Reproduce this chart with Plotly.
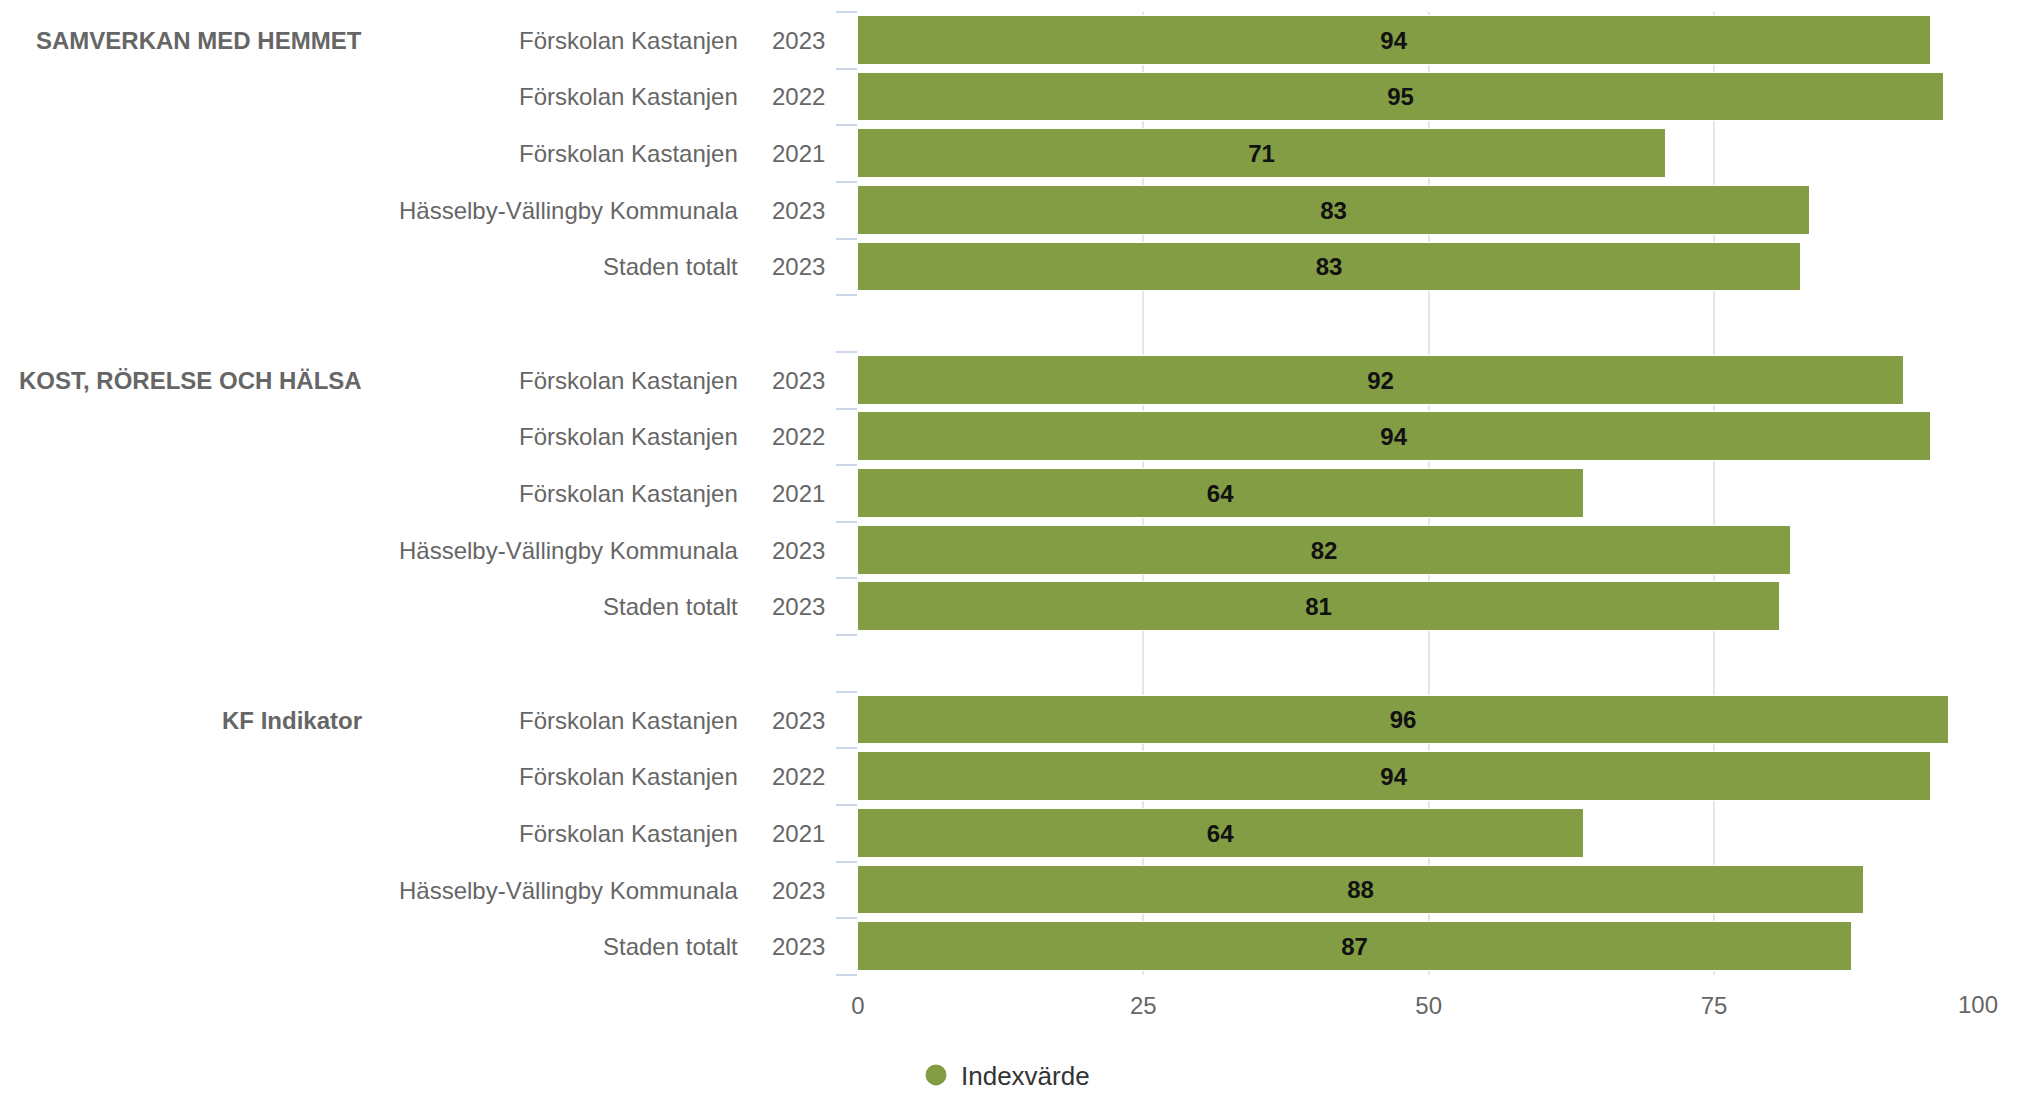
import plotly.graph_objects as go

# ---- data ----
groups = ["SAMVERKAN MED HEMMET", "KOST, RÖRELSE OCH HÄLSA", "KF Indikator"]
units = ["Förskolan Kastanjen", "Förskolan Kastanjen", "Förskolan Kastanjen",
         "Hässelby-Vällingby Kommunala", "Staden totalt"]
years = ["2023", "2022", "2021", "2023", "2023"]
values_samverkan = [94.0, 95.1, 70.8, 83.4, 82.6]
values_kost = [91.6, 94.0, 63.6, 81.7, 80.8]
values_kf = [95.6, 94.0, 63.6, 88.1, 87.1]
x_ticks = [0, 25, 50, 75, 100]
x_tick_labels = ["0", "25", "50", "75", "100"]
series_name = "Indexvärde"

group_values = [values_samverkan, values_kost, values_kf]

# ---- styling ----
W, H = 2019, 1094
L, T = 858, 12
PW, PH = 1142, 963
R, B = W - L - PW, H - T - PH
BAR = "#829d44"
LABEL = "#666666"
FONT = "Liberation Sans, Arial, sans-serif"

rows_per_group = len(units)
step = rows_per_group + 1  # one empty slot between groups
n_slots = step * len(groups) - 1

ys, xs = [], []
for g, vals in enumerate(group_values):
    for r, v in enumerate(vals):
        ys.append(g * step + r)
        xs.append(v)

fig = go.Figure()
fig.add_trace(go.Bar(
    x=xs, y=ys, orientation="h",
    marker=dict(color=BAR, line=dict(color="#ffffff", width=1)),
    width=0.86,
    texttemplate="%{x:.0f}", textposition="inside", insidetextanchor="middle",
    textangle=0, constraintext="none",
    textfont=dict(family=FONT, size=24, color="#111111", weight=700),
    showlegend=False, hoverinfo="x",
))
fig.add_trace(go.Scatter(
    x=[None], y=[None], mode="markers", name=series_name,
    marker=dict(symbol="circle", color=BAR, size=16, line=dict(color=BAR, width=5)),
    showlegend=True,
))


def px_to_paper(px):
    return (px - L) / PW


def py_to_paper(py):
    return (H - B - py) / PH


annotations = []
for g, gname in enumerate(groups):
    annotations.append(dict(
        x=px_to_paper(364), xref="paper", y=g * step, yref="y",
        text=gname, showarrow=False, xanchor="right", yanchor="middle",
        font=dict(family=FONT, size=24, color=LABEL, weight=700)))
    for r in range(rows_per_group):
        annotations.append(dict(
            x=px_to_paper(740), xref="paper", y=g * step + r, yref="y",
            text=units[r], showarrow=False, xanchor="right", yanchor="middle",
            font=dict(family=FONT, size=24, color=LABEL)))
        annotations.append(dict(
            x=px_to_paper(827), xref="paper", y=g * step + r, yref="y",
            text=years[r], showarrow=False, xanchor="right", yanchor="middle",
            font=dict(family=FONT, size=24, color=LABEL)))

# last x tick label is justified to the plot edge (as in the reference)
annotations.append(dict(
    x=x_ticks[-1], xref="x", y=py_to_paper(1004), yref="paper",
    text=x_tick_labels[-1], showarrow=False, xanchor="right", yanchor="middle",
    xshift=1, font=dict(family=FONT, size=24, color=LABEL)))

fig.update_layout(
    width=W, height=H,
    margin=dict(l=L, r=R, t=T, b=B, autoexpand=False),
    paper_bgcolor="#ffffff", plot_bgcolor="#ffffff",
    bargap=0,
    xaxis=dict(range=[0, 100.05], tickvals=x_ticks,
               ticktext=x_tick_labels[:-1] + [""], showgrid=True,
               gridcolor="#e6e6e6", gridwidth=2, zeroline=False, showline=False,
               ticks="", ticklabelstandoff=14,
               tickfont=dict(family=FONT, size=24, color=LABEL)),
    yaxis=dict(range=[n_slots - 0.5, -0.5], tickvals=[i - 0.5 for i in range(n_slots + 1)],
               showticklabels=False, showgrid=False, zeroline=False, showline=False,
               ticks="outside", ticklen=21, tickwidth=2, tickcolor="#ccd6eb"),
    legend=dict(orientation="h", x=px_to_paper(911), xanchor="left",
                y=py_to_paper(1075), yanchor="middle", itemwidth=40,
                font=dict(family=FONT, size=26, color="#333333"),
                bgcolor="rgba(0,0,0,0)"),
    annotations=annotations,
    showlegend=True,
)

fig.write_html("out.html", config={"displayModeBar": False},
               post_script="document.body.style.margin='0px';")
